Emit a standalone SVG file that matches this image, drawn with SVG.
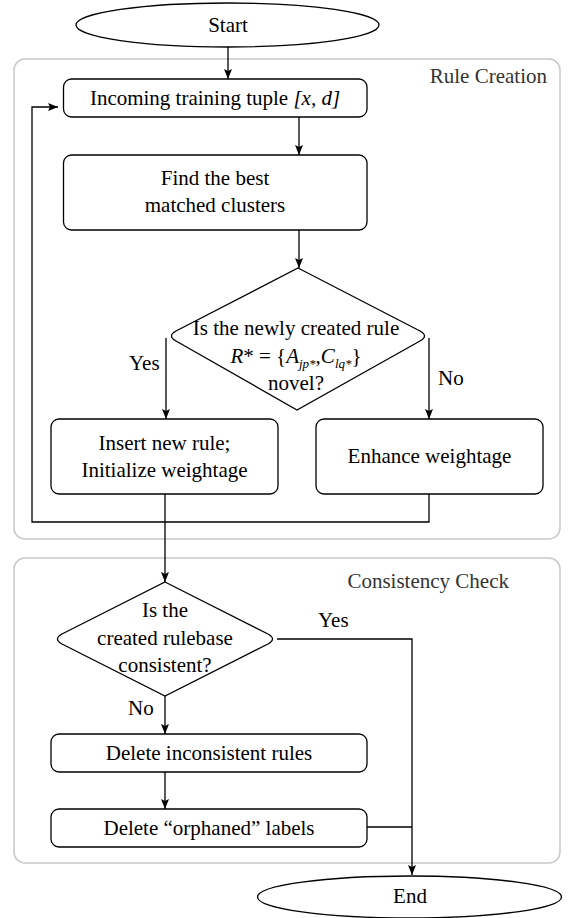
<svg xmlns="http://www.w3.org/2000/svg" width="574" height="918" viewBox="0 0 574 918">
  <style>
    .grp { fill: none; stroke: #c8c8c8; stroke-width: 1.5; }
    .node { fill: #ffffff; stroke: #000000; stroke-width: 1.3; }
    .edge { fill: none; stroke: #000000; stroke-width: 1.3; }
    .arr { marker-end: url(#head); }
    .c { text-anchor: middle; }
    .e { text-anchor: end; }
    .glabel { fill: #333333; }
    .it { font-style: italic; }
    .sub { font-size: 13px; font-style: italic; }
  </style>
  <defs>
    <marker id="head" viewBox="0 0 10 8" refX="10" refY="4" markerWidth="10" markerHeight="8" markerUnits="userSpaceOnUse" orient="auto">
      <path d="M0,0 L10,4 L0,8 L2,4 Z" fill="#000000"/>
    </marker>
  </defs>

  <g font-family="'Liberation Serif', 'Times New Roman', serif" font-size="21" fill="#000000">

  <!-- swimlane containers -->
  <g id="rule-creation">
    <rect class="grp" x="14" y="59" width="546" height="480" rx="11"/>
    <text class="e glabel" x="547" y="83">Rule Creation</text>
  </g>
  <g id="consistency-check">
    <rect class="grp" x="14" y="558" width="546" height="305" rx="11"/>
    <text class="e glabel" x="509" y="588">Consistency Check</text>
  </g>

  <!-- connectors -->
  <g id="connectors">
    <path class="edge arr" d="M228,47 L228,79"/>
    <path class="edge arr" d="M299,117 L299,155"/>
    <path class="edge arr" d="M299,230 L299,268"/>
    <path class="edge arr" d="M166,338 L166,419"/>
    <path class="edge arr" d="M429,338 L429,419"/>
    <path class="edge" d="M165,494 L165,522"/>
    <path class="edge arr" d="M429,494 L429,522 L32,522 L32,107 L58,107"/>
    <path class="edge arr" d="M165,522 L165,582"/>
    <path class="edge arr" d="M277,639 L412,639 L412,875"/>
    <path class="edge arr" d="M165,696 L165,734"/>
    <path class="edge arr" d="M165,772 L165,809"/>
    <path class="edge" d="M367,827 L412,827"/>
  </g>

  <!-- edge labels -->
  <g id="edge-labels">
    <text x="129" y="370">Yes</text>
    <text x="438" y="385">No</text>
    <text x="318" y="627">Yes</text>
    <text x="128" y="715">No</text>
  </g>

  <g id="start">
    <ellipse class="node" cx="227.5" cy="25" rx="151.5" ry="22"/>
    <text class="c" x="228" y="32">Start</text>
  </g>

  <g id="incoming-tuple">
    <rect class="node" x="63.5" y="79" width="303.5" height="38" rx="8"/>
    <text class="c" x="215" y="105">Incoming training tuple <tspan class="it">[x, d]</tspan></text>
  </g>

  <g id="find-clusters">
    <rect class="node" x="63.5" y="155" width="303.5" height="75" rx="8"/>
    <text class="c" x="215" y="185">Find the best</text>
    <text class="c" x="215" y="212">matched clusters</text>
  </g>

  <g id="novel-check">
    <path class="node" d="M298,268 L420,331 Q429,336 420,341 L297,410 L176,341 Q167,336 176,331 Z"/>
    <text class="c" x="296" y="335">Is the newly created rule</text>
    <text class="c" x="296" y="363"><tspan class="it">R</tspan>* = {<tspan class="it">A</tspan><tspan class="sub" dy="5">jp*</tspan><tspan dy="-5">,</tspan><tspan class="it">C</tspan><tspan class="sub" dy="5">lq*</tspan><tspan dy="-5">}</tspan></text>
    <text class="c" x="296" y="390">novel?</text>
  </g>

  <g id="insert-rule">
    <rect class="node" x="51" y="419" width="227" height="75" rx="8"/>
    <text class="c" x="164.5" y="450">Insert new rule;</text>
    <text class="c" x="164.5" y="477">Initialize weightage</text>
  </g>

  <g id="enhance-weightage">
    <rect class="node" x="316" y="419" width="227" height="75" rx="8"/>
    <text class="c" x="429.5" y="463">Enhance weightage</text>
  </g>

  <g id="consistent-check">
    <path class="node" d="M165,582 L268,634 Q277,639 268,644 L165,696 L62,644 Q53,639 62,634 Z"/>
    <text class="c" x="165" y="617">Is the</text>
    <text class="c" x="165" y="645">created rulebase</text>
    <text class="c" x="165" y="672">consistent?</text>
  </g>

  <g id="delete-inconsistent">
    <rect class="node" x="51" y="734" width="316" height="38" rx="8"/>
    <text class="c" x="209" y="760">Delete inconsistent rules</text>
  </g>

  <g id="delete-orphaned">
    <rect class="node" x="51" y="809" width="316" height="38" rx="8"/>
    <text class="c" x="209" y="835">Delete “orphaned” labels</text>
  </g>

  <g id="end">
    <ellipse class="node" cx="409.5" cy="897" rx="152" ry="21"/>
    <text class="c" x="410" y="903">End</text>
  </g>

  </g>
</svg>
